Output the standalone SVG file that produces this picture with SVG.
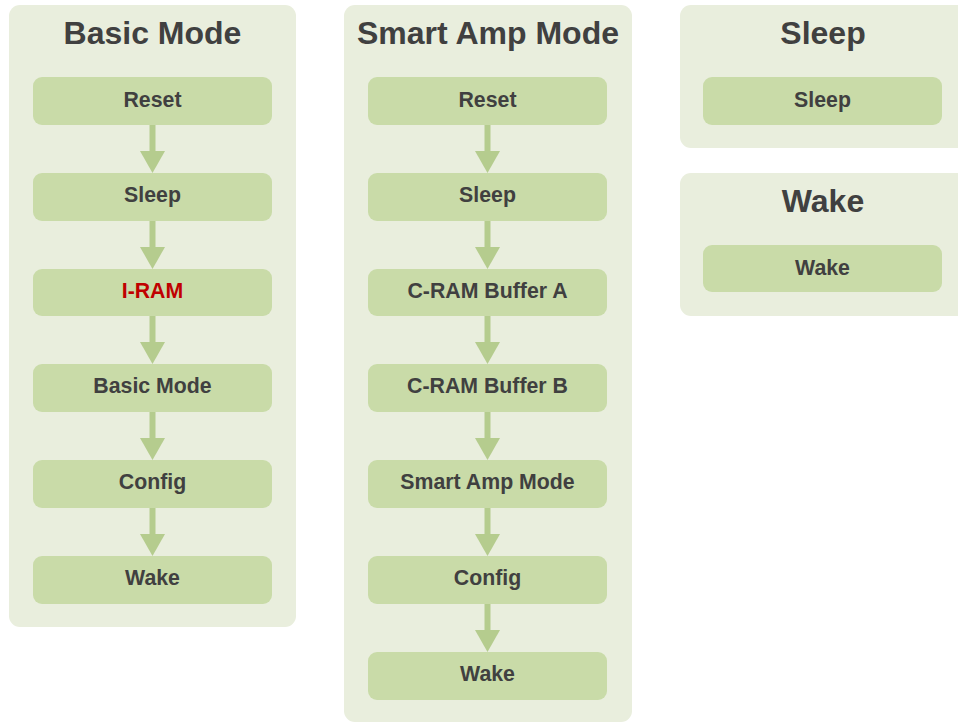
<svg xmlns="http://www.w3.org/2000/svg" width="958" height="723" viewBox="0 0 958 723">
<style>
.panel{fill:#e9eedd}
.node rect{fill:#c9dba8}
.title{font-family:"Liberation Sans",Arial,sans-serif;font-weight:bold;font-size:32px;fill:#404040;text-anchor:middle}
.label{font-family:"Liberation Sans",Arial,sans-serif;font-weight:bold;font-size:21.3px;fill:#404040;text-anchor:middle}
.red{fill:#c00000}
</style>
<defs>
<g id="arr"><line x1="0" y1="0" x2="0" y2="28" stroke="#b5cc8e" stroke-width="6"/><path d="M-12.5,26 L12.5,26 L0,48 Z" fill="#b5cc8e"/></g>
</defs>
<g id="panel-basic"><rect class="panel" x="9" y="5" width="287" height="622" rx="11"/><text class="title" x="152.5" y="44">Basic Mode</text></g>
<g id="panel-smart"><rect class="panel" x="344" y="5" width="288" height="717" rx="11"/><text class="title" x="488" y="44">Smart Amp Mode</text></g>
<g id="panel-sleep"><rect class="panel" x="680" y="5" width="290" height="143" rx="11"/><text class="title" x="823" y="44">Sleep</text></g>
<g id="panel-wake"><rect class="panel" x="680" y="173" width="290" height="143" rx="11"/><text class="title" x="823" y="212">Wake</text></g>

<g id="b-reset" class="node"><rect x="33" y="77" width="239" height="48" rx="9"/><text class="label" x="152.5" y="107">Reset</text></g>
<g id="b-sleep" class="node"><rect x="33" y="173" width="239" height="48" rx="9"/><text class="label" x="152.5" y="202">Sleep</text></g>
<g id="b-iram" class="node"><rect x="33" y="269" width="239" height="47" rx="9"/><text class="label red" x="152.5" y="298">I-RAM</text></g>
<g id="b-basic" class="node"><rect x="33" y="364" width="239" height="48" rx="9"/><text class="label" x="152.5" y="393">Basic Mode</text></g>
<g id="b-config" class="node"><rect x="33" y="460" width="239" height="48" rx="9"/><text class="label" x="152.5" y="489">Config</text></g>
<g id="b-wake" class="node"><rect x="33" y="556" width="239" height="48" rx="9"/><text class="label" x="152.5" y="585">Wake</text></g>

<g id="s-reset" class="node"><rect x="368" y="77" width="239" height="48" rx="9"/><text class="label" x="487.5" y="107">Reset</text></g>
<g id="s-sleep" class="node"><rect x="368" y="173" width="239" height="48" rx="9"/><text class="label" x="487.5" y="202">Sleep</text></g>
<g id="s-cra" class="node"><rect x="368" y="269" width="239" height="47" rx="9"/><text class="label" x="487.5" y="298">C-RAM Buffer A</text></g>
<g id="s-crb" class="node"><rect x="368" y="364" width="239" height="48" rx="9"/><text class="label" x="487.5" y="393">C-RAM Buffer B</text></g>
<g id="s-smart" class="node"><rect x="368" y="460" width="239" height="48" rx="9"/><text class="label" x="487.5" y="489">Smart Amp Mode</text></g>
<g id="s-config" class="node"><rect x="368" y="556" width="239" height="48" rx="9"/><text class="label" x="487.5" y="585">Config</text></g>
<g id="s-wake" class="node"><rect x="368" y="652" width="239" height="48" rx="9"/><text class="label" x="487.5" y="681">Wake</text></g>

<g id="sl-sleep" class="node"><rect x="703" y="77" width="239" height="48" rx="9"/><text class="label" x="822.5" y="107">Sleep</text></g>
<g id="wk-wake" class="node"><rect x="703" y="245" width="239" height="47" rx="9"/><text class="label" x="822.5" y="275">Wake</text></g>

<g id="connectors">
<use href="#arr" x="152.5" y="125"/>
<use href="#arr" x="152.5" y="221"/>
<use href="#arr" x="152.5" y="316"/>
<use href="#arr" x="152.5" y="412"/>
<use href="#arr" x="152.5" y="508"/>
<use href="#arr" x="487.5" y="125"/>
<use href="#arr" x="487.5" y="221"/>
<use href="#arr" x="487.5" y="316"/>
<use href="#arr" x="487.5" y="412"/>
<use href="#arr" x="487.5" y="508"/>
<use href="#arr" x="487.5" y="604"/>
</g>
</svg>
